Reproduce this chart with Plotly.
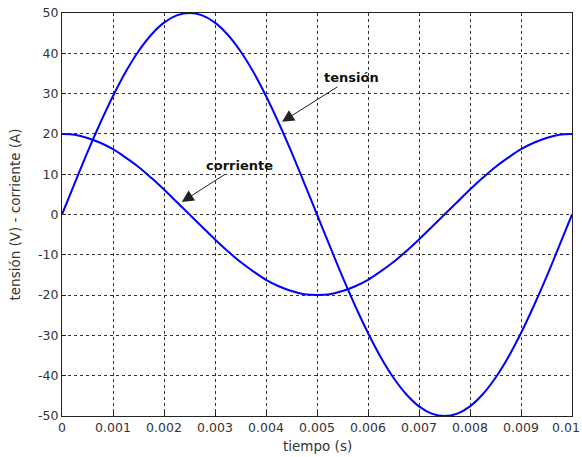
import plotly.graph_objects as go

# time samples (s)
tiempo = [i * 0.00025 for i in range(41)]

# values
tension = [0, 7.8, 15.5, 22.7, 29.4, 35.4, 40.5, 44.6, 47.6, 49.4,
           50, 49.4, 47.6, 44.6, 40.5, 35.4, 29.4, 22.7, 15.5, 7.8,
           0, -7.8, -15.5, -22.7, -29.4, -35.4, -40.5, -44.6, -47.6, -49.4,
           -50, -49.4, -47.6, -44.6, -40.5, -35.4, -29.4, -22.7, -15.5, -7.8, 0]
corriente = [20, 19.8, 19.0, 17.8, 16.2, 14.1, 11.8, 9.1, 6.2, 3.1,
             0, -3.1, -6.2, -9.1, -11.8, -14.1, -16.2, -17.8, -19.0, -19.8,
             -20, -19.8, -19.0, -17.8, -16.2, -14.1, -11.8, -9.1, -6.2, -3.1,
             0, 3.1, 6.2, 9.1, 11.8, 14.1, 16.2, 17.8, 19.0, 19.8, 20]

x_ticks = [0, 0.001, 0.002, 0.003, 0.004, 0.005, 0.006, 0.007, 0.008, 0.009, 0.01]
x_ticktext = ["0", "0.001", "0.002", "0.003", "0.004", "0.005", "0.006", "0.007", "0.008", "0.009", "0.01"]
y_ticks = [-50, -40, -30, -20, -10, 0, 10, 20, 30, 40, 50]
y_ticktext = ["-50", "-40", "-30", "-20", "-10", "0", "10", "20", "30", "40", "50"]

FONT = "DejaVu Sans, sans-serif"
TXT = "#333"

fig = go.Figure()
fig.add_trace(go.Scatter(x=tiempo, y=tension, mode="lines", name="tensión",
                         line=dict(color="#0000ff", width=2, shape="spline")))
fig.add_trace(go.Scatter(x=tiempo, y=corriente, mode="lines", name="corriente",
                         line=dict(color="#0000ff", width=2, shape="spline")))

axis_common = dict(showline=True, linecolor="#222", linewidth=1, mirror=True,
                   showgrid=True, gridcolor="#333", gridwidth=1, griddash="3px,3px",
                   zeroline=False, ticks="inside", ticklen=4, tickcolor="#222",
                   automargin=False, ticklabeloverflow="allow",
                   tickfont=dict(family=FONT, size=12.5, color=TXT))

# last x tick label sits at the right edge of the page: draw it right-aligned so it stays visible
fig.update_xaxes(range=[0, 0.01], tickvals=x_ticks, ticktext=x_ticktext[:-1] + [""], **axis_common)
fig.update_yaxes(range=[-50, 50], tickvals=y_ticks, ticktext=y_ticktext, **axis_common)
fig.add_annotation(x=x_ticks[-1], y=0, xref="x", yref="paper", xanchor="right", yanchor="top",
                   xshift=10, yshift=-2, text=x_ticktext[-1], showarrow=False,
                   font=dict(family=FONT, size=12.5, color=TXT))

# axis titles
fig.add_annotation(x=0.5, y=0, xref="paper", yref="paper", xanchor="center", yanchor="middle",
                   yshift=-30, text="tiempo (s)", showarrow=False,
                   font=dict(family=FONT, size=13.5, color=TXT))
fig.add_annotation(x=0, y=0.5, xref="paper", yref="paper", xanchor="center", yanchor="middle",
                   xshift=-48, textangle=-90, text="tensión (V) - corriente (A)", showarrow=False,
                   font=dict(family=FONT, size=13.5, color=TXT))

# labels with arrows
fig.add_annotation(x=0.004314, y=23.0, ax=0.005680, ay=33.9, axref="x", ayref="y",
                   text="<b>tensión</b>", showarrow=True, arrowhead=2, arrowsize=2.4,
                   arrowwidth=1, arrowcolor="#222",
                   font=dict(family=FONT, size=13, color="#111"))
fig.add_annotation(x=0.002347, y=3.1, ax=0.003471, ay=12.2, axref="x", ayref="y",
                   text="<b>corriente</b>", showarrow=True, arrowhead=2, arrowsize=2.4,
                   arrowwidth=1, arrowcolor="#222",
                   font=dict(family=FONT, size=13, color="#111"))

fig.update_layout(width=582, height=457, showlegend=False,
                  margin=dict(l=62, r=10, t=13, b=41, autoexpand=False),
                  paper_bgcolor="white", plot_bgcolor="white")

# remove the default 8px page margin so the figure sits at the window's top-left corner
fig.write_html("out.html", config={"displayModeBar": False},
               post_script="document.body.style.margin='0';")
